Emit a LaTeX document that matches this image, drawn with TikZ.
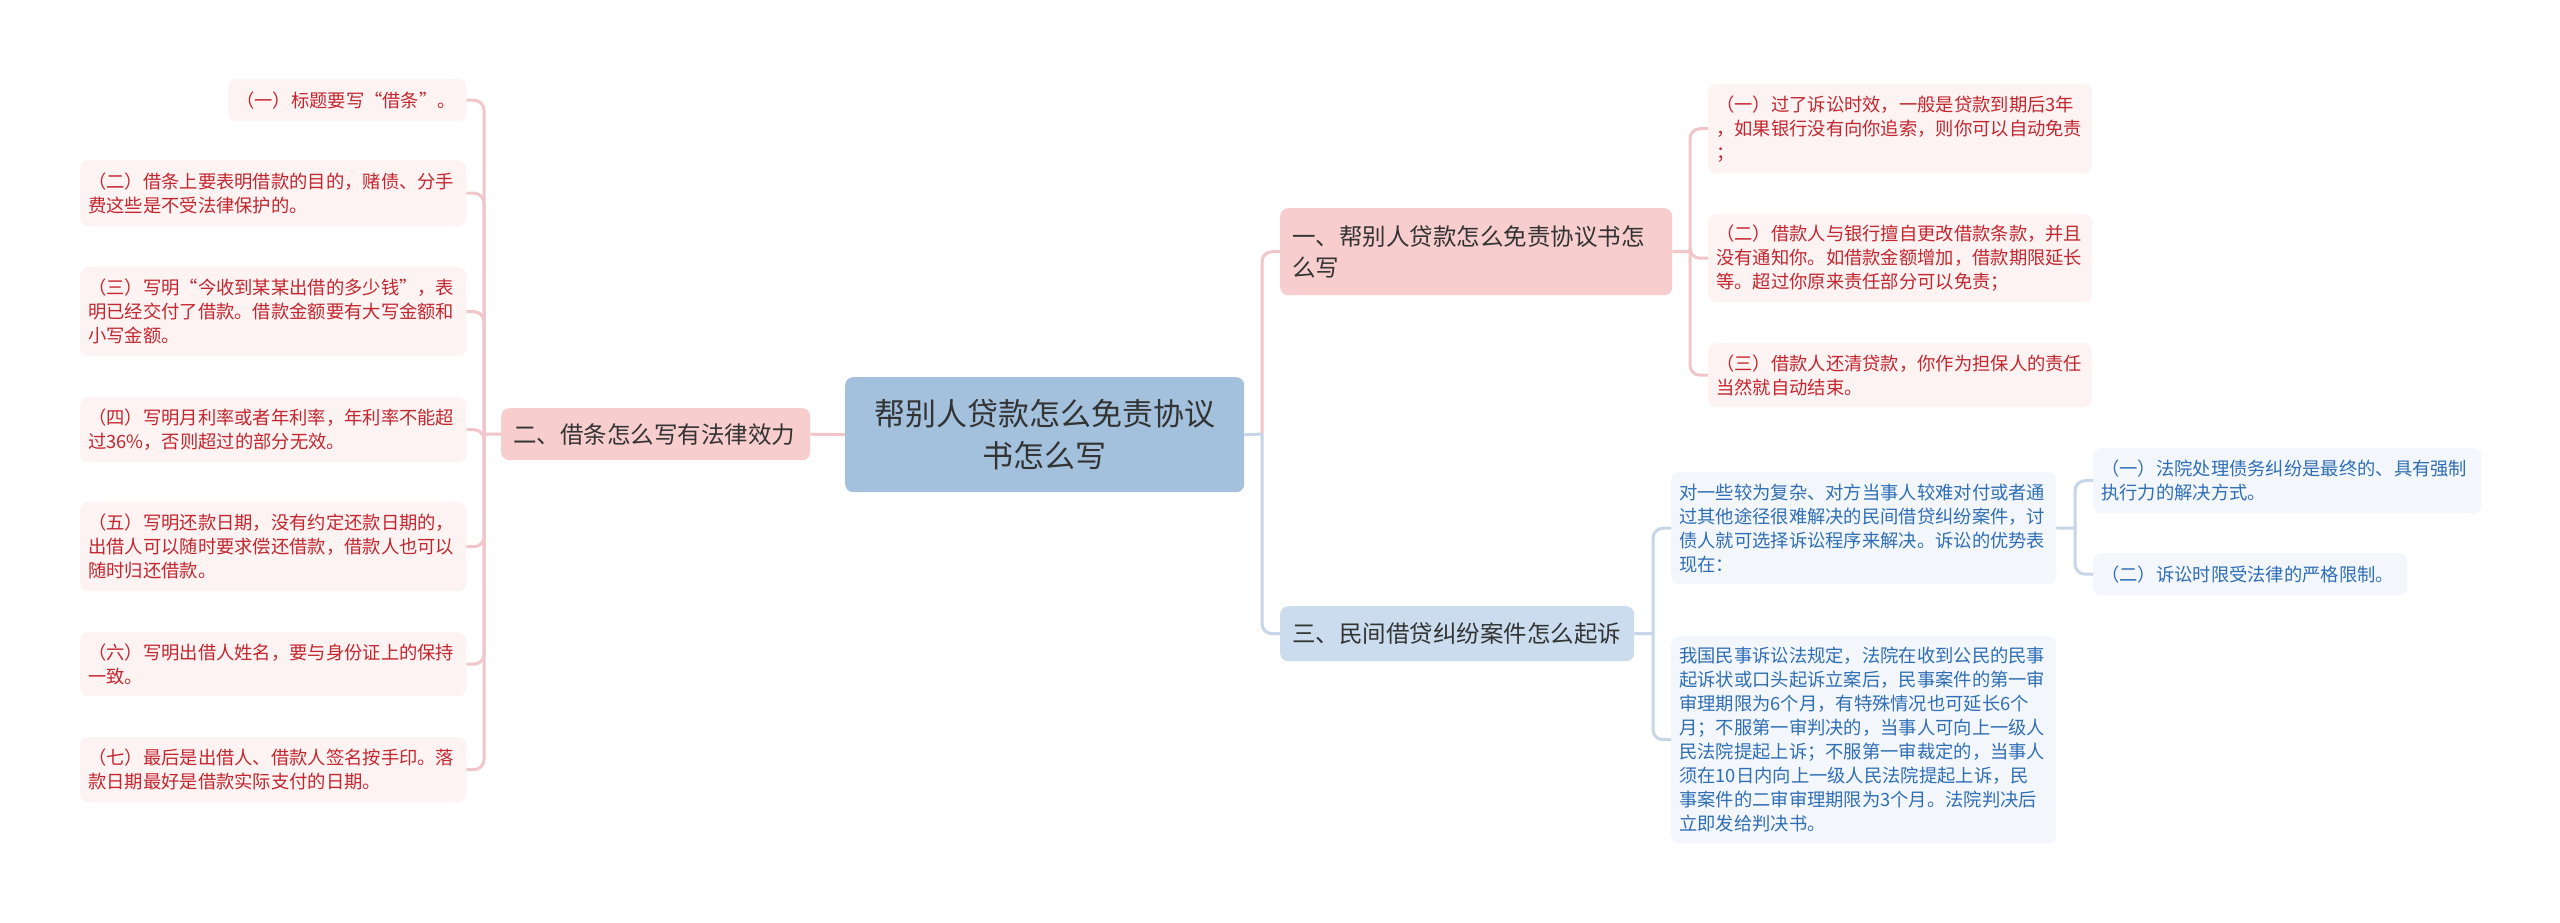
\documentclass[tikz,border=0pt]{standalone}
\usepackage{fontspec}
\setmainfont{Noto Sans CJK SC}
\definecolor{pleafbg}{HTML}{FDF3F3}
\definecolor{ptext}{HTML}{C4262E}
\definecolor{bleafbg}{HTML}{F3F7FC}
\definecolor{btext}{HTML}{2F6EB5}
\definecolor{pmainbg}{HTML}{F7CDCE}
\definecolor{bmainbg}{HTML}{CADCEE}
\definecolor{centerbg}{HTML}{A3C1DD}
\definecolor{pline}{HTML}{F2C6C8}
\definecolor{bline}{HTML}{C6D6E8}
\definecolor{dtext}{HTML}{333333}
\begin{document}
\begin{tikzpicture}[x=1pt,y=-1pt,
  box/.style={rectangle, rounded corners=8pt, inner xsep=8pt, inner ysep=3pt, anchor=north west, align=left},
  pleaf/.style={box, fill=pleafbg, text=ptext, font=\fontsize{18.3}{24}\selectfont},
  bleaf/.style={box, fill=bleafbg, text=btext, font=\fontsize{18.3}{24}\selectfont},
  pmain/.style={box, fill=pmainbg, text=dtext, inner xsep=12pt, font=\fontsize{23.5}{31}\selectfont},
  bmain/.style={box, fill=bmainbg, text=dtext, inner xsep=12pt, font=\fontsize{23.5}{31}\selectfont},
  cmain/.style={box, fill=centerbg, text=dtext, inner xsep=12pt, align=center, font=\fontsize{31}{42}\selectfont},
  pconn/.style={draw=pline, line width=3pt, rounded corners=10pt},
  bconn/.style={draw=bline, line width=3pt, rounded corners=10pt}
]
\useasboundingbox (0,0) rectangle (2560,923);
\fill[white] (0,0) rectangle (2560,923);

% central
\node[cmain, text width=375pt, minimum height=115pt] (center) at (845,377) {帮别人贷款怎么免责协议\\书怎么写};

% main branches
\node[pmain, text width=285pt, minimum height=52pt] (n2) at (501,408) {二、借条怎么写有法律效力};
\node[pmain, text width=368pt, minimum height=87pt] (n1) at (1280,208) {一、帮别人贷款怎么免责协议书怎\\么写};
\node[bmain, text width=330pt, minimum height=55pt] (n3) at (1280,606) {三、民间借贷纠纷案件怎么起诉};

% left leaves
\node[pleaf, text width=222pt, minimum height=42pt] (l1) at (228,79) {（一）标题要写“借条”。};
\node[pleaf, text width=370pt, minimum height=66pt] (l2) at (80,160) {（二）借条上要表明借款的目的，赌债、分手\\费这些是不受法律保护的。};
\node[pleaf, text width=370pt, minimum height=89pt] (l3) at (80,267) {（三）写明“今收到某某出借的多少钱”，表\\明已经交付了借款。借款金额要有大写金额和\\小写金额。};
\node[pleaf, text width=370pt, minimum height=65pt] (l4) at (80,397) {（四）写明月利率或者年利率，年利率不能超\\过36\%，否则超过的部分无效。};
\node[pleaf, text width=370pt, minimum height=89pt] (l5) at (80,502) {（五）写明还款日期，没有约定还款日期的，\\出借人可以随时要求偿还借款，借款人也可以\\随时归还借款。};
\node[pleaf, text width=370pt, minimum height=64pt] (l6) at (80,632) {（六）写明出借人姓名，要与身份证上的保持\\一致。};
\node[pleaf, text width=370pt, minimum height=65pt] (l7) at (80,737) {（七）最后是出借人、借款人签名按手印。落\\款日期最好是借款实际支付的日期。};

% right pink leaves
\node[pleaf, text width=368pt, minimum height=89pt] (r1) at (1708,84) {（一）过了诉讼时效，一般是贷款到期后3年\\，如果银行没有向你追索，则你可以自动免责\\；};
\node[pleaf, text width=368pt, minimum height=88pt] (r2) at (1708,214) {（二）借款人与银行擅自更改借款条款，并且\\没有通知你。如借款金额增加，借款期限延长\\等。超过你原来责任部分可以免责；};
\node[pleaf, text width=368pt, minimum height=64pt] (r3) at (1708,343) {（三）借款人还清贷款，你作为担保人的责任\\当然就自动结束。};

% blue leaves
\node[bleaf, text width=369pt, minimum height=112pt] (b1) at (1671,472) {对一些较为复杂、对方当事人较难对付或者通\\过其他途径很难解决的民间借贷纠纷案件，讨\\债人就可选择诉讼程序来解决。诉讼的优势表\\现在：};
\node[bleaf, text width=369pt, minimum height=207pt] (b2) at (1671,636) {我国民事诉讼法规定，法院在收到公民的民事\\起诉状或口头起诉立案后，民事案件的第一审\\审理期限为6个月，有特殊情况也可延长6个\\月；不服第一审判决的，当事人可向上一级人\\民法院提起上诉；不服第一审裁定的，当事人\\须在10日内向上一级人民法院提起上诉，民\\事案件的二审审理期限为3个月。法院判决后\\立即发给判决书。};
\node[bleaf, text width=372pt, minimum height=65pt] (bb1) at (2093,448) {（一）法院处理债务纠纷是最终的、具有强制\\执行力的解决方式。};
\node[bleaf, text width=298pt, minimum height=42pt] (bb2) at (2093,553) {（二）诉讼时限受法律的严格限制。};

% junctions
\coordinate (jL) at (484,434);
\coordinate (jC) at (1262,434);
\coordinate (jR) at (1690,251.5);
\coordinate (jB) at (1653,633.5);
\coordinate (jBB) at (2075,528);

% connectors
\draw[pconn] (center.west) -- (n2.east);
\draw[pconn] (n2.west) -- (jL);
\foreach \n in {l1,l2,l3,l4,l5,l6,l7} \draw[pconn] (jL) |- (\n.east);

\draw[pconn] (jC) |- (n1.west);
\draw[bconn] (jC) |- (n3.west);
\draw[bconn] (center.east) -- (jC);

\draw[pconn] (n1.east) -- (jR);
\foreach \n in {r1,r2,r3} \draw[pconn] (jR) |- (\n.west);

\draw[bconn] (n3.east) -- (jB);
\foreach \n in {b1,b2} \draw[bconn] (jB) |- (\n.west);

\draw[bconn] (b1.east) -- (jBB);
\foreach \n in {bb1,bb2} \draw[bconn] (jBB) |- (\n.west);
\end{tikzpicture}
\end{document}
